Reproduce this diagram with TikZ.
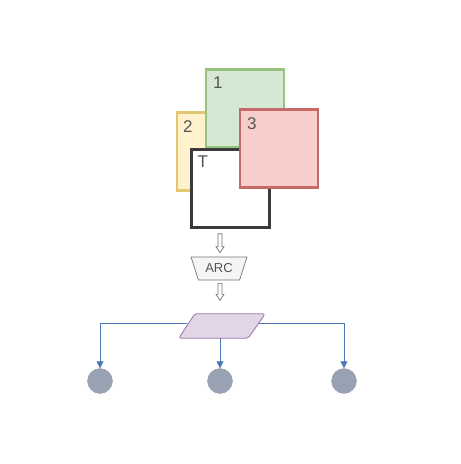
\documentclass[tikz,border=0pt]{standalone}
\usepackage{fontspec}
\setmainfont{Liberation Sans}
\usetikzlibrary{arrows.meta,shapes.geometric,calc}
\definecolor{gfill}{HTML}{D5E8D4}\definecolor{gline}{HTML}{97C280}
\definecolor{yfill}{HTML}{FFF2CC}\definecolor{yline}{HTML}{E3C66F}
\definecolor{rfill}{HTML}{F8CECC}\definecolor{rline}{HTML}{C56A66}
\definecolor{tline}{HTML}{3A3A3A}
\definecolor{pfill}{HTML}{E1D5E7}\definecolor{pline}{HTML}{9673A6}
\definecolor{eline}{HTML}{4A78BA}
\definecolor{cfill}{HTML}{98A2B3}
\definecolor{txt}{HTML}{555555}
\begin{document}
\begin{tikzpicture}[x=1pt,y=-1pt,
  sq/.style={minimum width=78pt,minimum height=78pt,line width=2.4pt,inner sep=0pt},
  lbl/.style={text=txt,font=\fontsize{17}{17}\selectfont,anchor=north west,inner sep=0pt},
  barrow/.style={draw=black!55,fill=white,line width=0.7pt},
  edge/.style={draw=eline,line width=0.8pt,-{Triangle[length=7pt,width=7pt]}},
  dot/.style={circle,fill=cfill,draw=cfill,minimum size=25pt,inner sep=0pt}]
\useasboundingbox (0,0) rectangle (461,464);
\node[sq,draw=yline,fill=yfill] (b2) at (216,151.5) {};
\node[sq,draw=gline,fill=gfill] (b1) at (245,108.5) {};
\node[sq,draw=tline,fill=white] (bT) at (230.5,188.5) {};
\node[sq,draw=rline,fill=rfill] (b3) at (279,148.5) {};
\node[lbl] (l2) at ($(b2.north west)+(7,9)$) {2};
\node[lbl] (l1) at ($(b1.north west)+(8,8)$) {1};
\node[lbl] (lT) at ($(bT.north west)+(7,7)$) {T};
\node[lbl] (l3) at ($(b3.north west)+(8,9)$) {3};
% ARC trapezoid
\node[trapezium,trapezium stretches=true,shape border rotate=180,
  trapezium left angle=62,trapezium right angle=62,
  minimum width=56pt,minimum height=23pt,inner sep=0pt,
  draw=black!55,fill=black!4,line width=0.7pt,text=txt,
  font=\fontsize{13}{13}\selectfont] (arc) at (219,268.5) {ARC};
% block arrows
\draw[barrow] ($(bT.south)+(-12.5,5)$) -- ++(4,0) -- ++(0,13) -- ++(2,0)
  -- ++(-4,6) -- ++(-4,-6) -- ++(2,0) -- cycle;
\draw[barrow] ($(arc.south)+(-1,3)$) -- ++(4,0) -- ++(0,11) -- ++(2,0)
  -- ++(-4,6) -- ++(-4,-6) -- ++(2,0) -- cycle;
% parallelogram (frame node)
\node[minimum width=86pt,minimum height=24pt,inner sep=0pt] (para) at (222,326) {};
% circles
\node[dot] (c1) at (100,381) {};
\node[dot] (c2) at (220,381) {};
\node[dot] (c3) at (344,381) {};
\draw[edge] ($(para.west)+(8,-3)$) -| (c1.north);
\draw[edge] ($(para.east)+(-8,-3)$) -| (c3.north);
\draw[edge] (para.south -| c2) -- (c2.north);
\draw[draw=pline,fill=pfill,line width=0.8pt,rounded corners=2.5pt]
  ($(para.north west)+(16,0)$) -- (para.north east) -- ($(para.south east)+(-17,0)$)
  -- (para.south west) -- cycle;
\end{tikzpicture}
\end{document}
